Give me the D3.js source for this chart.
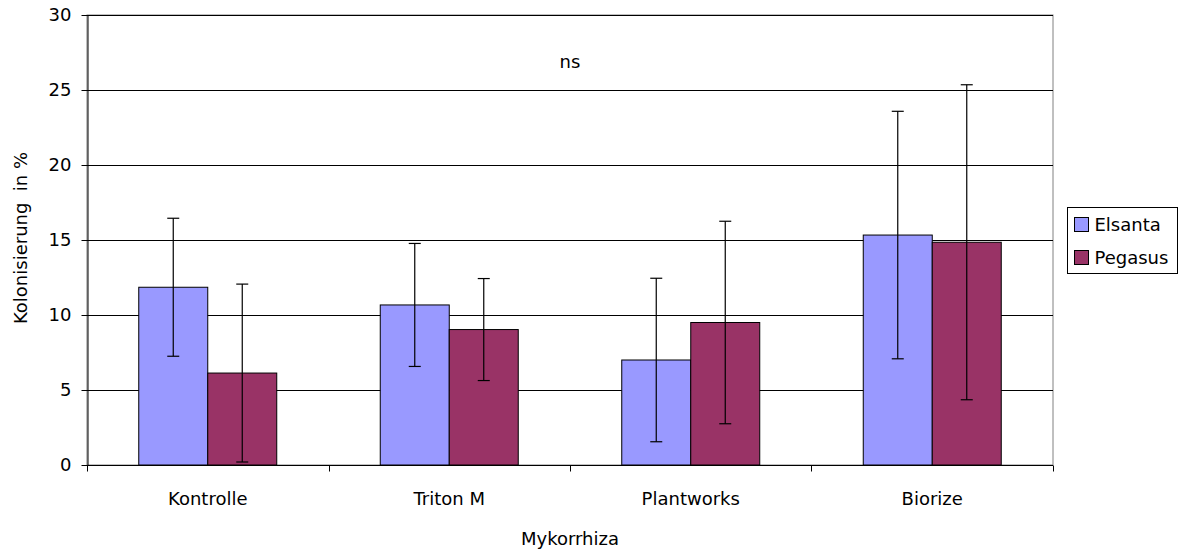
<!DOCTYPE html>
<html>
<head>
<meta charset="utf-8">
<script src="https://cdn.jsdelivr.net/npm/d3@7"></script>
<style>
  html, body { margin: 0; padding: 0; background: #fff; }
  text { font-family: "DejaVu Sans", Verdana, sans-serif; fill: #000; }
</style>
</head>
<body>
<svg id="chart" width="1184" height="554"></svg>
<script>
// Mykorrhiza-Kolonisierung (%) je Behandlung und Sorte, mit Standardabweichung
const categories = ["Kontrolle", "Triton M", "Plantworks", "Biorize"];
const seriesNames = ["Elsanta", "Pegasus"];
const elsantaMean = [11.85, 10.67, 7.0, 15.33];
const elsantaSD   = [4.6, 4.1, 5.45, 8.25];
const pegasusMean = [6.13, 9.03, 9.5, 14.85];
const pegasusSD   = [5.93, 3.4, 6.75, 10.5];
const yTicks = [0, 5, 10, 15, 20, 25, 30];
const colors = ["#9999ff", "#993366"];

const FS = "18px";
const svg = d3.select("#chart");
const margin = { left: 87, top: 15, right: 1053, bottom: 465 };

const x = d3.scaleBand()
  .domain(categories)
  .range([margin.left, margin.right])
  .paddingInner(0.4286)
  .paddingOuter(0.2143);
const xSeries = d3.scaleBand()
  .domain(seriesNames)
  .range([0, x.bandwidth()]);
const y = d3.scaleLinear().domain([0, 30]).range([margin.bottom, margin.top]);

const rows = categories.map((c, i) => ({
  cat: c,
  values: [
    { s: "Elsanta", m: elsantaMean[i], sd: elsantaSD[i] },
    { s: "Pegasus", m: pegasusMean[i], sd: pegasusSD[i] }
  ]
}));

// plot frame
svg.append("rect")
  .attr("x", margin.left).attr("y", margin.top)
  .attr("width", margin.right - margin.left)
  .attr("height", margin.bottom - margin.top)
  .attr("fill", "none").attr("stroke", "#808080").attr("stroke-width", 1);

// horizontal gridlines
svg.append("g")
  .selectAll("line")
  .data(yTicks.filter(d => d > 0))
  .join("line")
  .attr("x1", margin.left).attr("x2", margin.right)
  .attr("y1", d => Math.round(y(d)) + 0.5).attr("y2", d => Math.round(y(d)) + 0.5)
  .attr("stroke", "#000").attr("stroke-width", 1);

// bars
const groups = svg.append("g").selectAll("g")
  .data(rows)
  .join("g")
  .attr("transform", d => `translate(${x(d.cat)},0)`);

groups.selectAll("rect")
  .data(d => d.values)
  .join("rect")
  .attr("x", d => xSeries(d.s))
  .attr("y", d => y(d.m))
  .attr("width", xSeries.bandwidth())
  .attr("height", d => y(0) - y(d.m))
  .attr("fill", (d, i) => colors[i])
  .attr("stroke", "#000").attr("stroke-width", 1);

// error bars
const err = groups.selectAll("g.err")
  .data(d => d.values)
  .join("g").attr("class", "err")
  .attr("transform", d => `translate(${Math.round(xSeries(d.s) + xSeries.bandwidth() / 2) + 0.5},0)`);
err.append("line")
  .attr("y1", d => y(d.m + d.sd)).attr("y2", d => y(Math.max(0, d.m - d.sd)))
  .attr("stroke", "#000").attr("stroke-width", 1.2);
err.append("line")
  .attr("x1", -6).attr("x2", 6)
  .attr("y1", d => y(d.m + d.sd)).attr("y2", d => y(d.m + d.sd))
  .attr("stroke", "#000").attr("stroke-width", 1.2);
err.append("line")
  .attr("x1", -6).attr("x2", 6)
  .attr("y1", d => y(Math.max(0, d.m - d.sd))).attr("y2", d => y(Math.max(0, d.m - d.sd)))
  .attr("stroke", "#000").attr("stroke-width", 1.2);

// y axis
const yAxis = svg.append("g")
  .attr("transform", `translate(${margin.left + 0.5},0)`)
  .call(d3.axisLeft(y).tickValues(yTicks).tickSize(6).tickPadding(10).tickSizeOuter(0));
yAxis.select(".domain").attr("stroke", "#000");
yAxis.selectAll(".tick line").attr("stroke", "#000");
yAxis.selectAll(".tick text")
  .style("font-size", FS).style("font-family", "'DejaVu Sans', Verdana, sans-serif");

// x axis: tick marks between categories
const xAxis = svg.append("g")
  .attr("transform", `translate(0,${margin.bottom + 0.5})`);
xAxis.append("line")
  .attr("x1", margin.left).attr("x2", margin.right)
  .attr("stroke", "#000");
const boundaries = categories.map(c => x(c) - x.step() * x.paddingInner() / 2)
  .concat([margin.right]);
xAxis.selectAll("line.tk")
  .data(boundaries)
  .join("line").attr("class", "tk")
  .attr("x1", d => Math.round(d) + 0.5).attr("x2", d => Math.round(d) + 0.5)
  .attr("y1", 0).attr("y2", 6)
  .attr("stroke", "#000");
xAxis.selectAll("text")
  .data(categories)
  .join("text")
  .attr("x", d => x(d) + x.bandwidth() / 2)
  .attr("y", 39)
  .attr("text-anchor", "middle")
  .style("font-size", FS)
  .text(d => d);

// axis titles
svg.append("text")
  .attr("x", (margin.left + margin.right) / 2).attr("y", 545)
  .attr("text-anchor", "middle").style("font-size", FS)
  .text("Mykorrhiza");
svg.append("text")
  .attr("transform", `translate(27,${(margin.top + margin.bottom) / 2 - 2}) rotate(-90)`)
  .attr("text-anchor", "middle").style("font-size", FS)
  .attr("xml:space", "preserve")
  .text("Kolonisierung  in %");

// significance note
svg.append("text")
  .attr("x", (margin.left + margin.right) / 2).attr("y", 68)
  .attr("text-anchor", "middle").style("font-size", FS)
  .text("ns");

// legend
const legend = svg.append("g").attr("transform", "translate(1067.5,207.5)");
legend.append("rect")
  .attr("width", 110).attr("height", 66)
  .attr("fill", "#fff").attr("stroke", "#000");
const li = legend.selectAll("g.item")
  .data(seriesNames)
  .join("g").attr("class", "item")
  .attr("transform", (d, i) => `translate(7,${17 + i * 33})`);
li.append("rect")
  .attr("x", 0).attr("y", -7).attr("width", 14).attr("height", 14)
  .attr("fill", (d, i) => colors[i]).attr("stroke", "#000");
li.append("text")
  .attr("x", 20).attr("y", 6)
  .style("font-size", FS)
  .text(d => d);
</script>
</body>
</html>
